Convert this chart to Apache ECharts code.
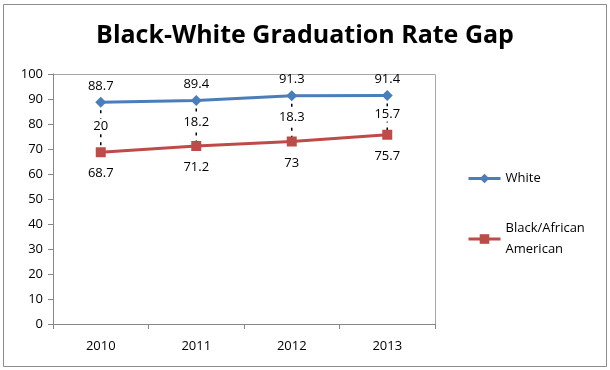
<!DOCTYPE html>
<html><head><meta charset="utf-8">
<script src="https://cdn.jsdelivr.net/npm/echarts@6/dist/echarts.min.js"></script>
<style>html,body{margin:0;padding:0;background:#fff}#c{width:610px;height:370px}</style>
</head><body><div id="c"></div>
<script>
const years = ['2010', '2011', '2012', '2013'];
const white = [88.7, 89.4, 91.3, 91.4];
const black = [68.7, 71.2, 73, 75.7];
const gaps = [20, 18.2, 18.3, 15.7];
const yTicks = [0, 10, 20, 30, 40, 50, 60, 70, 80, 90, 100];

const FONT = 'Open Sans';
const chart = echarts.init(document.getElementById('c'), null, {renderer: 'canvas'});
chart.setOption({
  animation: false,
  backgroundColor: '#fff',
  textStyle: {fontFamily: FONT},
  title: {
    text: 'Black-White Graduation Rate Gap',
    left: 'center', top: 18,
    textStyle: {fontFamily: FONT, fontSize: 25, fontWeight: 'bold', color: '#000'}
  },
  graphic: [{
    type: 'rect', shape: {x: 3.5, y: 4.5, width: 603, height: 362},
    style: {fill: 'none', stroke: '#8c8c8c', lineWidth: 1}, z: 100
  }, {
    type: 'rect', shape: {x: 53.5, y: 74.5, width: 382, height: 250},
    style: {fill: 'none', stroke: '#a6a6a6', lineWidth: 1}, z: 0
  }],
  legend: {
    orient: 'vertical', left: 462, top: 163, itemGap: 29,
    itemWidth: 32, itemHeight: 12,
    lineStyle: {width: 3},
    textStyle: {fontFamily: FONT, fontSize: 13, color: '#000', lineHeight: 21},
    data: [{name: 'White'}, {name: 'Black/African\nAmerican'}]
  },
  grid: {left: 53, right: 175, top: 74, bottom: 46},
  xAxis: {
    type: 'category', data: years, boundaryGap: true,
    axisLine: {lineStyle: {color: '#868686'}},
    axisTick: {show: true, length: 5, lineStyle: {color: '#868686'}},
    axisLabel: {fontFamily: FONT, fontSize: 13, color: '#000', margin: 16}
  },
  yAxis: {
    type: 'value', min: yTicks[0], max: yTicks[yTicks.length - 1], interval: 10,
    axisLine: {show: true, lineStyle: {color: '#868686'}},
    axisTick: {show: true, length: 5, lineStyle: {color: '#868686'}},
    splitLine: {show: false},
    axisLabel: {fontFamily: FONT, fontSize: 13, color: '#000', margin: 10}
  },
  series: [{
    name: 'gap', type: 'custom', z: 1, silent: true,
    data: gaps.map((g, i) => [i, white[i], black[i], g]),
    renderItem: function (params, api) {
      const i = api.value(0);
      const p1 = api.coord([i, api.value(1)]);
      const p2 = api.coord([i, api.value(2)]);
      const mid = (p1[1] + p2[1]) / 2;
      return {
        type: 'group', children: [{
          type: 'line',
          shape: {x1: p1[0], y1: p1[1], x2: p2[0], y2: p2[1]},
          style: {stroke: '#000', lineWidth: 1.5, lineDash: [3, 5]}
        }, {
          type: 'text',
          style: {
            x: p1[0], y: mid - 1, text: String(api.value(3)),
            fontFamily: FONT, fontSize: 13, fill: '#000',
            align: 'center', verticalAlign: 'middle',
            backgroundColor: '#fff', padding: [1, 2]
          }
        }]
      };
    }
  }, {
    name: 'White', type: 'line', data: white, z: 3,
    symbol: 'diamond', symbolSize: 11,
    itemStyle: {color: '#4a7ebb'},
    lineStyle: {color: '#4a7ebb', width: 3},
    label: {show: true, position: 'top', distance: 4, fontFamily: FONT, fontSize: 13, color: '#000'}
  }, {
    name: 'Black/African\nAmerican', type: 'line', data: black, z: 3,
    symbol: 'rect', symbolSize: 10,
    itemStyle: {color: '#be4b48'},
    lineStyle: {color: '#be4b48', width: 3},
    label: {show: true, position: 'bottom', distance: 10, fontFamily: FONT, fontSize: 13, color: '#000'}
  }]
});
</script></body></html>
